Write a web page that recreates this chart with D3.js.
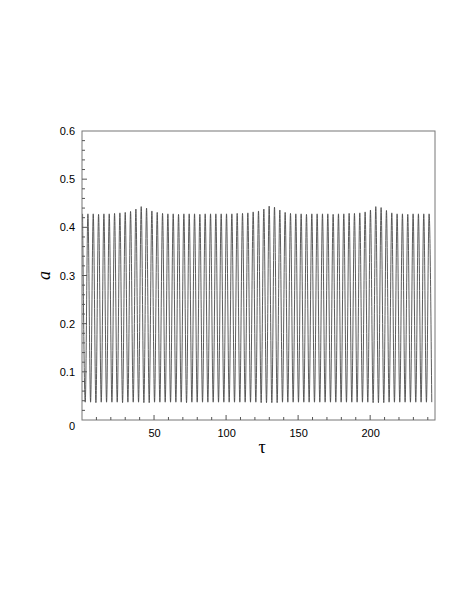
<!doctype html>
<html>
<head>
<meta charset="utf-8">
<script src="https://cdn.jsdelivr.net/npm/d3@7"></script>
<style>
  body { margin: 0; background: #fff; }
  .tick text { font-family: "Liberation Sans", Arial, sans-serif; font-size: 11px; fill: #000; }
</style>
</head>
<body>
<script>
// peak times / values and trough times / values
var peakTau = [0.4, 4.1, 7.8, 11.5, 15.2, 18.9, 22.6, 26.3, 30.0, 33.7, 37.4, 41.1, 44.8, 48.5, 52.2, 55.9,
  59.6, 63.3, 67.0, 70.7, 74.4, 78.1, 81.8, 85.5, 89.2, 92.9, 96.6, 100.3, 104.0, 107.7, 111.4, 115.1,
  118.8, 122.5, 126.2, 129.9, 133.6, 137.3, 141.0, 144.7, 148.4, 152.1, 155.8, 159.5, 163.2, 166.9,
  170.6, 174.3, 178.0, 181.7, 185.4, 189.1, 192.8, 196.5, 200.2, 203.9, 207.6, 211.3, 215.0, 218.7,
  222.4, 226.1, 229.8, 233.5, 237.2, 240.9];
var peakA = [0.428, 0.428, 0.428, 0.427, 0.428, 0.428, 0.429, 0.430, 0.431, 0.433, 0.438, 0.443, 0.440, 0.434, 0.431, 0.429,
  0.428, 0.428, 0.427, 0.428, 0.428, 0.428, 0.427, 0.428, 0.428, 0.428, 0.428, 0.428, 0.428, 0.429, 0.429, 0.430,
  0.432, 0.434, 0.438, 0.444, 0.442, 0.436, 0.431, 0.429, 0.428, 0.428, 0.427, 0.428, 0.428, 0.428,
  0.428, 0.427, 0.428, 0.428, 0.429, 0.429, 0.430, 0.432, 0.436, 0.443, 0.441, 0.435, 0.430, 0.428,
  0.428, 0.427, 0.428, 0.428, 0.428, 0.428];
var troughTau = [2.25, 5.95, 9.65, 13.35, 17.05, 20.75, 24.45, 28.15, 31.85, 35.55, 39.25, 42.95, 46.65, 50.35,
  54.05, 57.75, 61.45, 65.15, 68.85, 72.55, 76.25, 79.95, 83.65, 87.35, 91.05, 94.75, 98.45, 102.15,
  105.85, 109.55, 113.25, 116.95, 120.65, 124.35, 128.05, 131.75, 135.45, 139.15, 142.85, 146.55,
  150.25, 153.95, 157.65, 161.35, 165.05, 168.75, 172.45, 176.15, 179.85, 183.55, 187.25, 190.95,
  194.65, 198.35, 202.05, 205.75, 209.45, 213.15, 216.85, 220.55, 224.25, 227.95, 231.65, 235.35,
  239.05, 242.75];
var troughA = [0.037, 0.037, 0.036, 0.037, 0.037, 0.037, 0.037, 0.036, 0.037, 0.037, 0.037, 0.036, 0.036, 0.037,
  0.037, 0.037, 0.037, 0.037, 0.037, 0.036, 0.037, 0.037, 0.037, 0.037, 0.037, 0.037, 0.037, 0.037,
  0.037, 0.037, 0.037, 0.037, 0.037, 0.036, 0.036, 0.036, 0.036, 0.037, 0.037, 0.037,
  0.037, 0.037, 0.037, 0.037, 0.037, 0.037, 0.037, 0.037, 0.037, 0.037, 0.037, 0.037,
  0.037, 0.037, 0.036, 0.036, 0.036, 0.037, 0.037, 0.037, 0.037, 0.037, 0.037, 0.037,
  0.037, 0.037];
var xTicks = [50, 100, 150, 200];
var yTicks = [0, 0.1, 0.2, 0.3, 0.4, 0.5, 0.6];

var W = 463, H = 599;
var margin = {top: 131, right: 28, bottom: 179, left: 82};
var width = W - margin.left - margin.right;
var height = H - margin.top - margin.bottom;

var svg = d3.select("body").append("svg")
  .attr("width", W).attr("height", H)
  .append("g")
  .attr("transform", "translate(" + margin.left + "," + margin.top + ")");

var x = d3.scaleLinear().domain([0, 245]).range([0, width]);
var y = d3.scaleLinear().domain([0, 0.6]).range([height, 0]);

// merge peaks and troughs into one sorted series
var pts = [];
peakTau.forEach(function(t, i) { pts.push({t: t, a: peakA[i]}); });
troughTau.forEach(function(t, i) { pts.push({t: t, a: troughA[i]}); });
pts.sort(function(p, q) { return p.t - q.t; });

svg.append("clipPath").attr("id", "clip")
  .append("rect").attr("width", width).attr("height", height);

var line = d3.line()
  .x(function(d) { return x(d.t); })
  .y(function(d) { return y(d.a); })
  .curve(d3.curveMonotoneX);

svg.append("path")
  .datum(pts)
  .attr("clip-path", "url(#clip)")
  .attr("fill", "none")
  .attr("stroke", "#4a4a4a")
  .attr("stroke-width", 0.9)
  .attr("d", line);

// frame
svg.append("rect")
  .attr("width", width).attr("height", height)
  .attr("fill", "none").attr("stroke", "#777").attr("stroke-width", 1);

// minor ticks
var minorX = d3.range(10, 245, 10);
svg.append("g").selectAll("line").data(minorX).enter().append("line")
  .attr("x1", function(d) { return x(d); }).attr("x2", function(d) { return x(d); })
  .attr("y1", height).attr("y2", function(d) { return d % 50 === 0 ? height - 5 : height - 3; })
  .attr("stroke", "#555");
var minorY = d3.range(0.02, 0.6, 0.02);
svg.append("g").selectAll("line").data(minorY).enter().append("line")
  .attr("x1", 0).attr("x2", function(d) { return Math.abs(d * 10 - Math.round(d * 10)) < 1e-6 ? 5 : 3; })
  .attr("y1", function(d) { return y(d); }).attr("y2", function(d) { return y(d); })
  .attr("stroke", "#555");

// axes labels
var xa = svg.append("g")
  .attr("transform", "translate(0," + height + ")")
  .call(d3.axisBottom(x).tickValues(xTicks).tickSize(0).tickPadding(9));
xa.select(".domain").remove();

var ya = svg.append("g")
  .call(d3.axisLeft(y).tickValues(yTicks).tickSize(0).tickPadding(7).tickFormat(function(d) { return d === 0 ? "0" : d3.format(".1f")(d); }));
ya.select(".domain").remove();
ya.selectAll(".tick").filter(function(d) { return d === 0; }).select("text").attr("dy", "0.9em");

svg.append("text")
  .attr("x", x(125)).attr("y", height + 33)
  .attr("text-anchor", "middle")
  .style("font-family", "'Liberation Serif', 'DejaVu Serif', serif")
  .style("font-size", "18px")
  .text("\u03C4");

svg.append("text")
  .attr("transform", "translate(-32," + y(0.3) + ") rotate(-90)")
  .attr("text-anchor", "middle")
  .style("font-family", "'Liberation Serif', 'DejaVu Serif', serif")
  .style("font-style", "italic")
  .style("font-size", "18px")
  .text("a");
</script>
</body>
</html>
